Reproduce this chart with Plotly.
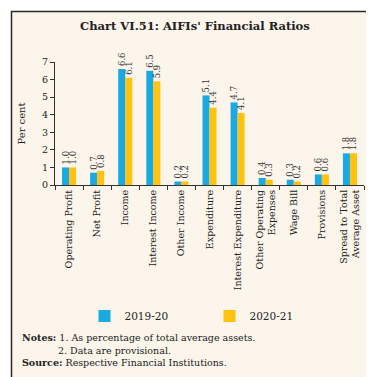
import plotly.graph_objects as go

categories = ["Operating Profit", "Net Profit", "Income", "Interest Income", "Other Income",
              "Expenditure", "Interest Expenditure", "Other Operating<br>Expenses", "Wage Bill",
              "Provisions", "Spread to Total<br>Average Asset"]
vals_2019_20 = [1.0, 0.7, 6.6, 6.5, 0.2, 5.1, 4.7, 0.4, 0.3, 0.6, 1.8]
vals_2020_21 = [1.0, 0.8, 6.1, 5.9, 0.2, 4.4, 4.1, 0.3, 0.2, 0.6, 1.8]
series_names = ["2019-20", "2020-21"]
y_ticks = [0, 1, 2, 3, 4, 5, 6, 7]

BLUE = "#1AA9E1"
YELLOW = "#FFC20E"
FONT = "DejaVu Serif"

W, H = 374, 377
L, R, T, B = 47, 18, 54, 200
pw, ph = W - L - R, H - T - B

def px_x(x):
    return (x - L) / pw

def px_y(y):
    return (H - B - y) / ph

fig = go.Figure()
for name, vals, col in [(series_names[0], vals_2019_20, BLUE), (series_names[1], vals_2020_21, YELLOW)]:
    fig.add_trace(go.Bar(
        x=categories, y=vals, name=name, marker=dict(color=col, line=dict(width=0)),
        text=[f"{v:.1f}" for v in vals], textposition="outside", textangle=-90,
        constraintext="none",
        textfont=dict(family=FONT, size=8.5, color="#333"), cliponaxis=False,
    ))

fig.update_layout(
    width=W, height=H,
    margin=dict(l=L, r=R, t=T, b=B, pad=0),
    paper_bgcolor="white", plot_bgcolor="rgba(0,0,0,0)",
    barmode="group", bargap=0.5, bargroupgap=0,
    font=dict(family=FONT, size=9, color="#222"),
    showlegend=True,
    legend=dict(orientation="h", x=0.5, xanchor="center", y=px_y(308), yanchor="middle",
                font=dict(family=FONT, size=10.5, color="#222"), bgcolor="rgba(0,0,0,0)",
                entrywidth=80, itemwidth=30, traceorder="normal"),
    shapes=[dict(type="rect", xref="paper", yref="paper", layer="below",
                 x0=px_x(3.5), x1=px_x(370), y0=px_y(370), y1=px_y(3.5),
                 fillcolor="#FBF5EB", line=dict(color="#2a2a2a", width=1.5))],
    annotations=[
        dict(text="<b>Chart VI.51: AIFIs' Financial Ratios</b>", xref="paper", yref="paper",
             x=px_x(187), y=px_y(18), xanchor="center", yanchor="middle", showarrow=False,
             font=dict(family=FONT, size=11.5, color="#222")),
        dict(text="<b>Notes:</b> 1. As percentage of total average assets.", xref="paper", yref="paper",
             x=px_x(12), y=px_y(329), xanchor="left", yanchor="middle", showarrow=False,
             font=dict(family=FONT, size=9.5, color="#222")),
        dict(text="2. Data are provisional.", xref="paper", yref="paper",
             x=px_x(48), y=px_y(342), xanchor="left", yanchor="middle", showarrow=False,
             font=dict(family=FONT, size=9.5, color="#222")),
        dict(text="<b>Source:</b> Respective Financial Institutions.", xref="paper", yref="paper",
             x=px_x(12), y=px_y(354), xanchor="left", yanchor="middle", showarrow=False,
             font=dict(family=FONT, size=9.5, color="#222")),
    ],
)

fig.update_xaxes(
    type="category", tickangle=-90, tickson="boundaries", ticks="outside", ticklen=4,
    tickcolor="#333", showline=True, linecolor="#333", linewidth=1, showgrid=False,
    tickfont=dict(family=FONT, size=9.5, color="#222"),
)
fig.update_yaxes(
    range=[0, 7], tickvals=y_ticks, ticks="outside", ticklen=4, tickcolor="#333",
    showline=True, linecolor="#333", linewidth=1, showgrid=False, zeroline=False,
    tickfont=dict(family=FONT, size=9.5, color="#222"),
    title=dict(text="Per cent", font=dict(family=FONT, size=10, color="#222"), standoff=14),
)

fig.write_html("out.html")
